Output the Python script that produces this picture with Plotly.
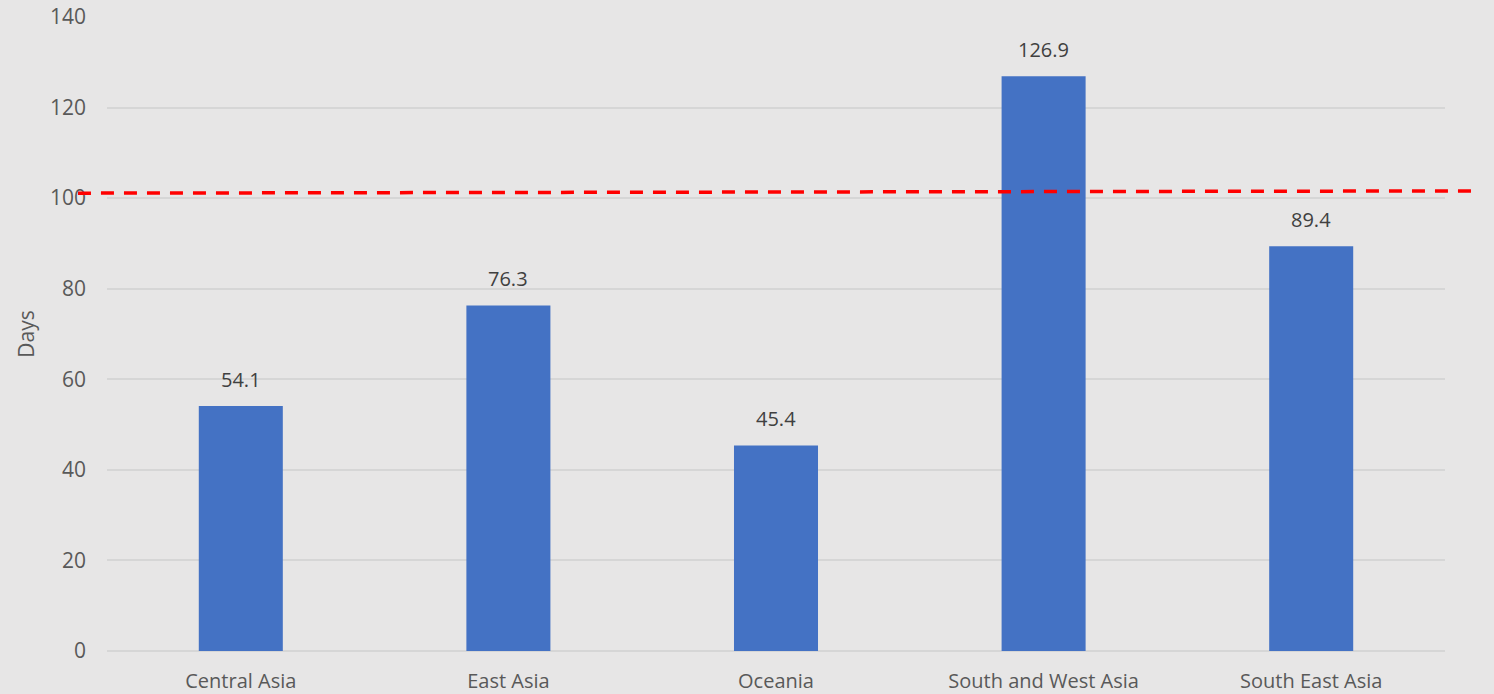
import plotly.graph_objects as go

regions = ["Central Asia", "East Asia", "Oceania", "South and West Asia", "South East Asia"]
days = [54.1, 76.3, 45.4, 126.9, 89.4]
threshold_start = 101.1
threshold_end = 101.6
y_ticks = [0, 20, 40, 60, 80, 100, 120, 140]

font_family = "Open Sans, Noto Sans, sans-serif"

fig = go.Figure()
fig.add_trace(go.Bar(
    x=regions, y=days,
    marker=dict(color="#4472C4", line=dict(width=0)),
    width=0.314,
    hoverinfo="x+y",
))

for r, v in zip(regions, days):
    fig.add_annotation(
        x=r, y=v, text=f"{v:.1f}", showarrow=False,
        yanchor="bottom", yshift=11,
        font=dict(family=font_family, size=20, color="#404040"),
    )

fig.add_shape(
    type="line", xref="paper", yref="y",
    x0=-0.0217, x1=1.0224, y0=threshold_start, y1=threshold_end,
    line=dict(color="#FF0000", width=3.5, dash="13px,10px"),
    layer="above",
)

fig.update_layout(
    width=1494, height=694,
    margin=dict(l=107, r=49, t=17, b=43, autoexpand=False),
    paper_bgcolor="#E7E6E6",
    plot_bgcolor="#E7E6E6",
    showlegend=False,
    font=dict(family=font_family, size=20, color="#595959"),
    bargap=0.686,
)
fig.update_xaxes(
    showgrid=False, showline=False, zeroline=False, automargin=False,
    ticks="", tickfont=dict(size=20, color="#595959"), ticklabelstandoff=16,
)
fig.update_yaxes(
    range=[0, 140], tickvals=y_ticks, automargin=False,
    showgrid=True, gridcolor="#D6D6D6", gridwidth=1.5,
    zeroline=True, zerolinecolor="#D6D6D6", zerolinewidth=1.5,
    showline=False, ticks="", ticklabelstandoff=20,
    tickfont=dict(size=21, color="#595959"),
    title=dict(text="Days", font=dict(size=21, color="#595959"), standoff=9),
)

fig.write_html("out.html")
